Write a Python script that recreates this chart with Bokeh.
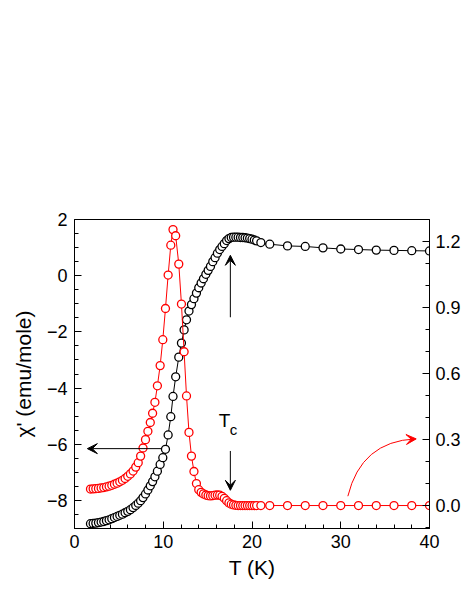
from bokeh.plotting import figure
from bokeh.models import (Range1d, LinearAxis, FixedTicker, PrintfTickFormatter,
                          Arrow, VeeHead, Label, ColumnDataSource)
from bokeh.embed import file_html
from bokeh.resources import INLINE

# ---------------- data ----------------
T = [1.8, 2.1, 2.4, 2.7, 3.0, 3.3, 3.6, 3.9, 4.2, 4.5,
     4.8, 5.1, 5.4, 5.7, 6.0, 6.3, 6.6, 6.9, 7.18, 7.45,
     7.72, 8.0, 8.27, 8.54, 8.8, 9.06, 9.34, 9.65, 9.95, 10.25,
     10.55, 10.85, 11.1, 11.4, 11.75, 12.05, 12.35, 12.62, 12.9, 13.18,
     13.46, 13.74, 14.0, 14.27, 14.53, 14.8, 15.06, 15.32, 15.58, 15.84,
     16.1, 16.36, 16.62, 16.88, 17.14, 17.4, 17.66, 17.92, 18.18, 18.44,
     18.7, 18.96, 19.22, 19.48, 19.74, 20.0, 20.26, 20.52, 21.0, 22.0,
     24.0, 26.0, 28.0, 30.0, 32.0, 34.0, 36.0, 38.0, 40.0]

# chi' (left axis, emu/mole)
chi_real = [-8.83, -8.82, -8.81, -8.79, -8.77, -8.75, -8.72, -8.69, -8.65, -8.61,
            -8.57, -8.53, -8.49, -8.44, -8.39, -8.33, -8.26, -8.18, -8.10, -8.01,
            -7.90, -7.77, -7.63, -7.48, -7.33, -7.16, -6.96, -6.72, -6.48, -6.18,
            -5.67, -5.02, -4.30, -3.60, -2.90, -2.40, -1.93, -1.57, -1.26, -1.03,
            -0.82, -0.62, -0.43, -0.26, -0.11, 0.05, 0.19, 0.33, 0.50, 0.64,
            0.80, 0.93, 1.04, 1.14, 1.25, 1.32, 1.36, 1.37, 1.37, 1.37,
            1.36, 1.36, 1.35, 1.34, 1.32, 1.30, 1.27, 1.24, 1.18, 1.12,
            1.06, 1.04, 0.99, 0.95, 0.93, 0.91, 0.90, 0.89, 0.88]

# chi'' (right axis)
chi_imag = [0.075, 0.076, 0.077, 0.078, 0.080, 0.082, 0.085, 0.088, 0.092, 0.097,
            0.102, 0.108, 0.115, 0.123, 0.133, 0.144, 0.157, 0.175, 0.195, 0.225,
            0.262, 0.300, 0.338, 0.378, 0.420, 0.470, 0.545, 0.637, 0.755, 0.897,
            1.049, 1.185, 1.256, 1.228, 1.099, 0.917, 0.700, 0.499, 0.333, 0.225,
            0.155, 0.100, 0.072, 0.060, 0.053, 0.048, 0.045, 0.044, 0.045, 0.047,
            0.048, 0.047, 0.042, 0.033, 0.022, 0.012, 0.006, 0.003, 0.001, 0.0,
            0.0, 0.0, 0.0, 0.0, 0.0, 0.0, 0.0, 0.0, 0.0, 0.0,
            0.0, 0.0, 0.0, 0.0, 0.0, 0.0, 0.0, 0.0, 0.0]

x_ticks = [0, 10, 20, 30, 40]
x_minor = [2, 4, 6, 8, 12, 14, 16, 18, 22, 24, 26, 28, 32, 34, 36, 38]
yl_ticks = [-8, -6, -4, -2, 0, 2]
yl_minor = [-8.5, -7.5, -7, -6.5, -5.5, -5, -4.5, -3.5, -3, -2.5,
            -1.5, -1, -0.5, 0.5, 1, 1.5]
yr_ticks = [0.0, 0.3, 0.6, 0.9, 1.2]
yr_minor = [-0.1, 0.1, 0.2, 0.4, 0.5, 0.7, 0.8, 1.0, 1.1, 1.3]

# annotation positions (data units of T and chi')
arrow_left = dict(x0=9.8, y0=-6.157, x1=1.45, y1=-6.157)
arrow_up = dict(x0=17.56, y0=-1.48, x1=17.56, y1=0.725)
arrow_down = dict(x0=17.56, y0=-6.24, x1=17.56, y1=-7.64)
curve_red = dict(x0=30.8, y0=-7.85, cx=32.3, cy=-5.9, x1=38.4, y1=-5.81)
tc_pos = dict(xT=16.24, yT=-5.17, xc=17.48, yc=-5.46)

FONT = "Liberation Sans"

src = ColumnDataSource(dict(T=T, chi1=chi_real, chi2=chi_imag))

p = figure(width=463, height=590, output_backend="svg", toolbar_location=None,
           x_range=Range1d(0, 40), y_range=Range1d(-9, 2),
           min_border_left=74, min_border_top=219, min_border_bottom=62,
           min_border_right=5)
p.extra_y_ranges = {"chi2": Range1d(-0.1045, 1.302)}
p.xgrid.visible = False
p.ygrid.visible = False
p.outline_line_color = "black"
p.outline_line_width = 1
p.background_fill_color = "white"
p.border_fill_color = "white"


def style(ax, standoff):
    ax.major_tick_in = 7
    ax.major_tick_out = 0
    ax.minor_tick_in = 4
    ax.minor_tick_out = 0
    ax.axis_line_color = "black"
    ax.major_tick_line_color = "black"
    ax.minor_tick_line_color = "black"
    ax.major_label_text_font = FONT
    ax.major_label_text_font_size = "18px"
    ax.major_label_text_color = "black"
    ax.major_label_standoff = standoff
    ax.axis_label_text_font = FONT
    ax.axis_label_text_font_size = "21px"
    ax.axis_label_text_font_style = "normal"
    ax.axis_label_text_color = "black"


xa = p.xaxis[0]
xa.ticker = FixedTicker(ticks=x_ticks, minor_ticks=x_minor)
xa.axis_label = "T (K)"
style(xa, 6)
xa.axis_label_standoff = 5

ya = p.yaxis[0]
ya.ticker = FixedTicker(ticks=yl_ticks, minor_ticks=yl_minor)
ya.axis_label = "χ' (emu/mole)"
style(ya, 7)
ya.axis_label_standoff = 9

yr = LinearAxis(y_range_name="chi2")
yr.ticker = FixedTicker(ticks=yr_ticks, minor_ticks=yr_minor)
yr.formatter = PrintfTickFormatter(format="%.1f")
style(yr, 6)
p.add_layout(yr, "right")

# black: chi'
p.line("T", "chi1", source=src, line_color="black", line_width=1)
p.scatter("T", "chi1", source=src, marker="circle", size=8,
          line_color="black", fill_color="white", line_width=1.3)

# red: chi''
p.line("T", "chi2", source=src, line_color="red", line_width=1, y_range_name="chi2")
p.scatter("T", "chi2", source=src, marker="circle", size=8, y_range_name="chi2",
          line_color="red", fill_color="white", line_width=1.3)

# arrows
for a in (arrow_left, arrow_up, arrow_down):
    p.add_layout(Arrow(x_start=a["x0"], y_start=a["y0"], x_end=a["x1"], y_end=a["y1"],
                       line_color="black", line_width=1,
                       end=VeeHead(size=10, fill_color="black", line_color="black",
                                   line_width=1)))

p.quadratic(x0=[curve_red["x0"]], y0=[curve_red["y0"]],
            x1=[curve_red["x1"]], y1=[curve_red["y1"]],
            cx=[curve_red["cx"]], cy=[curve_red["cy"]],
            line_color="red", line_width=1)
p.add_layout(Arrow(x_start=curve_red["x1"] - 1.0, y_start=curve_red["y1"] - 0.02,
                   x_end=curve_red["x1"] + 0.1, y_end=curve_red["y1"],
                   line_alpha=0, line_color="red",
                   end=VeeHead(size=10, fill_color="red", line_color="red", line_width=1)))

p.add_layout(Label(x=tc_pos["xT"], y=tc_pos["yT"], text="T", text_font=FONT,
                   text_font_size="19px", text_color="black",
                   text_baseline="alphabetic", text_align="left"))
p.add_layout(Label(x=tc_pos["xc"], y=tc_pos["yc"], text="c", text_font=FONT,
                   text_font_size="15px", text_color="black",
                   text_baseline="alphabetic", text_align="left"))

open("out.html", "w").write(file_html(p, INLINE))
